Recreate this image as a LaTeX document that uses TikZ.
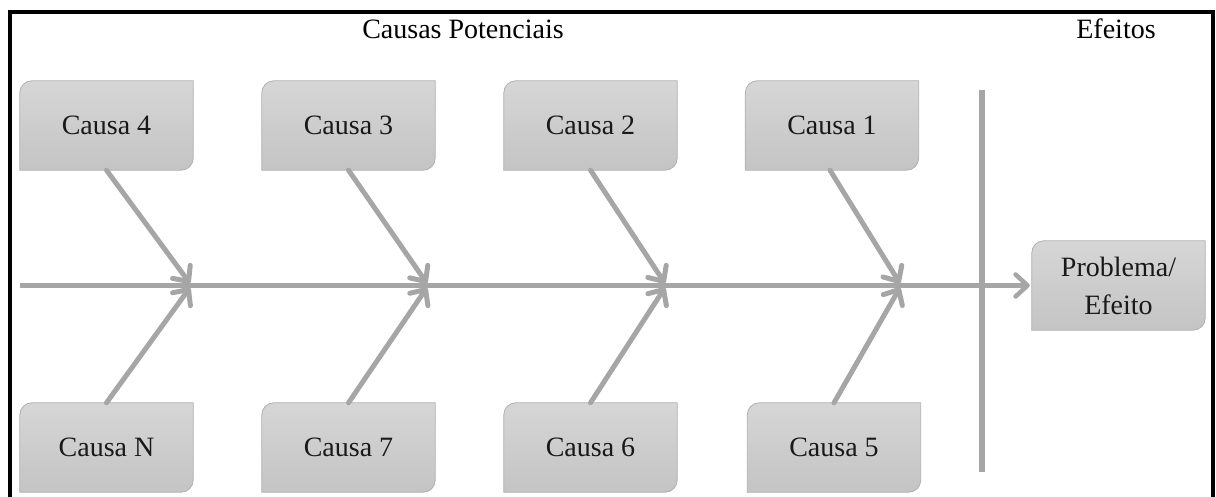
\documentclass[tikz,border=0pt]{standalone}
\usepackage{fontspec}
\setmainfont{Liberation Serif}
\usetikzlibrary{arrows.meta,backgrounds,calc}
\definecolor{linegray}{HTML}{A6A6A6}
\definecolor{boxtop}{HTML}{D6D6D6}
\definecolor{boxbot}{HTML}{C4C4C4}
\definecolor{boxedge}{HTML}{AFAFAF}
\tikzset{
  boxtext/.style={minimum width=173pt,minimum height=89pt,inner sep=0pt,align=center,
    font=\fontsize{28}{38}\selectfont,text=black!90},
  boxshape/.style={shade,top color=boxtop,bottom color=boxbot,draw=boxedge,line width=0.8pt},
  title/.style={font=\fontsize{28}{34}\selectfont,anchor=base},
  bone/.style={draw=linegray,line width=5pt,line cap=round,
    -{Straight Barb[length=12pt,width=22pt,round]}},
  bar/.style={draw=linegray,line width=5.5pt},
}
\newcommand\fishbox[4]{%
  \node[boxtext] (#1) at (#2,#3) {#4};
  \begin{scope}[on background layer]
    \path[boxshape] (#1.south west) -- ([yshift=-12pt]#1.north west)
      arc[start angle=180,end angle=90,radius=12pt] -- (#1.north east)
      -- ([yshift=12pt]#1.south east)
      arc[start angle=0,end angle=-90,radius=12pt] -- cycle;
  \end{scope}}
\begin{document}
\begin{tikzpicture}[x=1pt,y=1pt]
\useasboundingbox (0,0) rectangle (1216,497);
% frame
\draw[line width=4pt] (10,-10) -- (10,485) -- (1212.5,485) -- (1212.5,-10);
% titles
\node[title] (tp) at (463,458) {Causas Potenciais};
\node[title] (te) at (1116,458) {Efeitos};
% boxes
\fishbox{c4}{106.5}{371.5}{Causa 4}
\fishbox{c3}{348.5}{371.5}{Causa 3}
\fishbox{c2}{590.5}{371.5}{Causa 2}
\fishbox{c1}{832}{371.5}{Causa 1}
\fishbox{cn}{106.5}{49.5}{Causa N}
\fishbox{c7}{348.5}{49.5}{Causa 7}
\fishbox{c6}{590.5}{49.5}{Causa 6}
\fishbox{c5}{834}{49.5}{Causa 5}
\fishbox{pe}{1118.5}{211.5}{Problema/\\Efeito}
% coordinates
\coordinate (s0) at (20,211.5);
\coordinate (v0) at (982,407);
\coordinate (v1) at (982,25);
\coordinate (u4) at (190,213.5);
\coordinate (u3) at (427,213.5);
\coordinate (u2) at (665,213.5);
\coordinate (u1) at (900,213.5);
\coordinate (l4) at (190,209.5);
\coordinate (l3) at (427,209.5);
\coordinate (l2) at (665,209.5);
\coordinate (l1) at (900,209.5);
% spine and bar
\draw[bar] (v0) -- (v1);
\draw[bone,line width=4.5pt,line cap=butt] (s0) -- ([xshift=-2pt]pe.west);
% ribs
\draw[bone] (c4.south) -- (u4);
\draw[bone] (c3.south) -- (u3);
\draw[bone] (c2.south) -- (u2);
\draw[bone] ([xshift=-2pt]c1.south) -- (u1);
\draw[bone] (cn.north) -- (l4);
\draw[bone] (c7.north) -- (l3);
\draw[bone] (c6.north) -- (l2);
\draw[bone] (c5.north) -- (l1);
\end{tikzpicture}
\end{document}
